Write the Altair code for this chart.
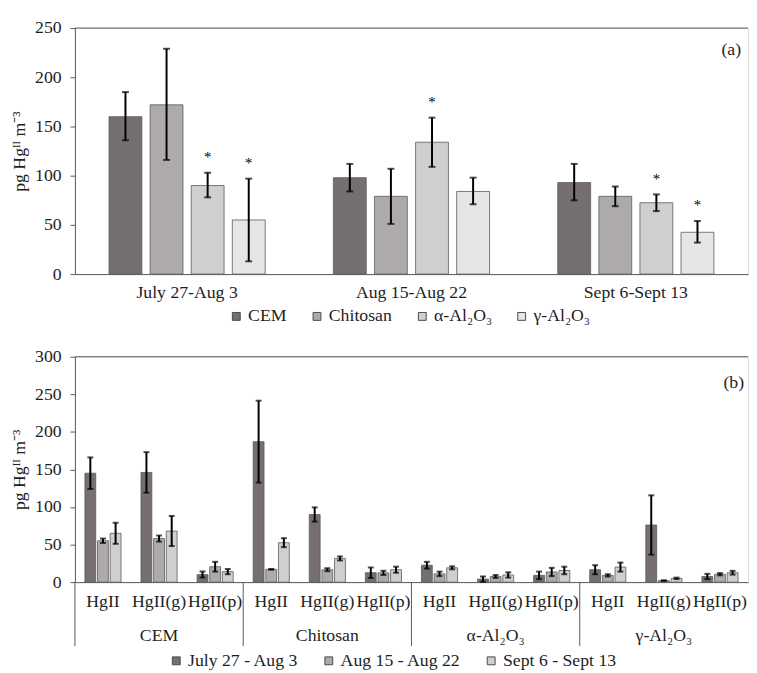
import altair as alt
import pandas as pd

FONT = "Liberation Serif"
AXC = "#595959"
TXT = "#1e1e1e"

# ---------- panel (a) ----------
periods_a = ["July 27-Aug 3", "Aug 15-Aug 22", "Sept 6-Sept 13"]
materials = ["CEM", "Chitosan", "α-Al₂O₃", "γ-Al₂O₃"]
colors_a = ["#756f6f", "#aeaaaa", "#d0cece", "#e7e6e6"]
mean_a = [[160, 172, 90, 55], [98, 79, 134, 84], [93, 79, 72.5, 42.5]]
low_a = [[136, 116, 78, 13], [84, 51, 109, 71], [75, 69, 64, 32]]
high_a = [[185, 229, 103, 97], [112, 107, 159, 98], [112, 89, 81, 54]]
star_a = [[0, 0, 1, 1], [0, 0, 1, 0], [0, 0, 1, 1]]
ticks_a = [0, 50, 100, 150, 200, 250]

# ---------- panel (b) ----------
groups_b = ["CEM", "Chitosan", "α-Al₂O₃", "γ-Al₂O₃"]
species = ["HgII", "HgII(g)", "HgII(p)"]
periods_b = ["July 27 - Aug 3", "Aug 15 - Aug 22", "Sept 6 - Sept 13"]
colors_b = ["#756f6f", "#aeaaaa", "#d0cece"]
mean_b = [
    [[145, 55, 65], [146, 58, 68], [10, 20.5, 14]],
    [[187, 17, 52.5], [90, 16.5, 31.5], [12.5, 12.3, 16.5]],
    [[22.5, 11, 19], [4, 7.5, 9.5], [9, 13.5, 15.5]],
    [[16.5, 9, 20], [76, 2, 5], [7.5, 10.5, 12.5]],
]
err_b = [
    [[21, 3, 14], [27, 4, 20], [4, 6.5, 3.5]],
    [[54.5, 0.5, 6], [9.5, 2, 2.7], [7, 2.8, 4]],
    [[4.5, 3, 2], [3.5, 2, 3.5], [5, 5.5, 5]],
    [[6, 1.5, 6], [39.5, 0.5, 1], [3.5, 1.5, 2.5]],
]
ticks_b = [0, 50, 100, 150, 200, 250, 300]

rows_a = []
for i, p in enumerate(periods_a):
    for j, m in enumerate(materials):
        rows_a.append(dict(period=p, material=m, mean=mean_a[i][j],
                           low=low_a[i][j], high=high_a[i][j], star=star_a[i][j]))
df_a = pd.DataFrame(rows_a)

rows_b = []
for g, grp in enumerate(groups_b):
    for s, sp in enumerate(species):
        for k, per in enumerate(periods_b):
            m = mean_b[g][s][k]
            e = err_b[g][s][k]
            rows_b.append(dict(key=f"{grp}|{sp}", group=grp, species=sp, period=per,
                               mean=m, low=max(m - e, 0), high=m + e))
df_b = pd.DataFrame(rows_b)
keys_b = [f"{g}|{s}" for g in groups_b for s in species]
one = pd.DataFrame(dict(n=[1]))

W = 684
HA = 250
HB = 229
ytitle = "pg Hgᴵᴵ m⁻³"


def yaxis(vals):
    return alt.Axis(title=ytitle, values=vals, tickCount=len(vals), grid=False,
                    labelOverlap=False, tickSize=5, labelPadding=9, titlePadding=6,
                    domainColor=AXC, tickColor=AXC, labelFontSize=18, titleFontSize=18,
                    titleFontWeight="normal", labelColor=TXT, titleColor=TXT)


# ---- chart (a) ----
xa = alt.X("period:N", sort=periods_a,
           scale=alt.Scale(domain=periods_a, paddingInner=0, paddingOuter=0),
           axis=alt.Axis(title=None, labelAngle=0, ticks=False, labelPadding=10,
                         domainColor=AXC, labelFontSize=18, labelColor=TXT))
xoa = alt.XOffset("material:N", sort=materials,
                  scale=alt.Scale(domain=materials, paddingInner=0.2, paddingOuter=0.83))
ya = alt.Y("mean:Q", scale=alt.Scale(domain=[0, 250], nice=False), axis=yaxis(ticks_a))

base_a = alt.Chart(df_a)
xpa = alt.X("period:N", sort=periods_a)
xom = alt.XOffset("material:N", sort=materials)
bars_a = base_a.mark_bar(stroke="#5a5a5a", strokeWidth=0.8).encode(
    x=xa, xOffset=xoa, y=ya,
    color=alt.Color("material:N", sort=materials,
                    scale=alt.Scale(domain=materials, range=colors_a),
                    legend=alt.Legend(title=None, orient="none", direction="horizontal",
                                      legendX=155, legendY=284, symbolType="square",
                                      symbolSize=64, symbolStrokeColor="#4a4a4a",
                                      symbolStrokeWidth=1, labelFontSize=18,
                                      labelOffset=3, columnPadding=21, padding=0,
                                      labelColor=TXT)))
err_a = base_a.mark_rule(color="black", strokeWidth=2).encode(
    x=xpa, xOffset=xom, y=alt.Y("low:Q", axis=yaxis(ticks_a)), y2="high:Q")
caplo_a = base_a.mark_tick(color="black", thickness=2, size=7).encode(
    x=xpa, xOffset=xom, y="low:Q")
caphi_a = base_a.mark_tick(color="black", thickness=2, size=7).encode(
    x=xpa, xOffset=xom, y="high:Q")
stars_a = base_a.transform_filter("datum.star == 1").mark_text(
    text="*", font=FONT, fontSize=15, color="black", baseline="middle", dy=-16).encode(
    x=xpa, xOffset=xom, y="high:Q")
top_a = alt.Chart(one).mark_rule(color=AXC, strokeWidth=1).encode(y=alt.datum(250))
lab_a = alt.Chart(one).mark_text(text="(a)", font=FONT, fontSize=18, color=TXT,
                                 align="right", baseline="middle", dx=-7).encode(
    x=alt.X(datum="Sept 6-Sept 13", bandPosition=1), y=alt.datum(228))

chart_a = alt.layer(bars_a, err_a, caplo_a, caphi_a, stars_a, top_a, lab_a).properties(
    width=W, height=HA)

# ---- chart (b) ----
xb = alt.X("key:N", sort=keys_b,
           scale=alt.Scale(domain=keys_b, paddingInner=0, paddingOuter=0),
           axis=alt.Axis(title=None, labelAngle=0, ticks=False, labelPadding=11,
                         labelExpr="split(datum.value, '|')[1]", labelOverlap=False,
                         labelBound=False, domainColor=AXC, labelFontSize=18,
                         labelColor=TXT))
xob = alt.XOffset("period:N", sort=periods_b,
                  scale=alt.Scale(domain=periods_b, paddingInner=0.14, paddingOuter=0.79))
yb = alt.Y("mean:Q", scale=alt.Scale(domain=[0, 300], nice=False), axis=yaxis(ticks_b))

base_b = alt.Chart(df_b)
bars_b = base_b.mark_bar(stroke="#5a5a5a", strokeWidth=0.8).encode(
    x=xb, xOffset=xob, y=yb,
    color=alt.Color("period:N", sort=periods_b,
                    scale=alt.Scale(domain=periods_b, range=colors_b),
                    legend=alt.Legend(title=None, orient="none", direction="horizontal",
                                      legendX=94, legendY=300, symbolType="square",
                                      symbolSize=64, symbolStrokeColor="#4a4a4a",
                                      symbolStrokeWidth=1, labelFontSize=18,
                                      labelOffset=3, columnPadding=22, padding=0,
                                      labelColor=TXT)))
xk = alt.X("key:N", sort=keys_b)
xo = alt.XOffset("period:N", sort=periods_b)
err_b_l = base_b.mark_rule(color="black", strokeWidth=2).encode(
    x=xk, xOffset=xo, y=alt.Y("low:Q", axis=yaxis(ticks_b)), y2="high:Q")
caplo_b = base_b.mark_tick(color="black", thickness=2, size=6).encode(
    x=xk, xOffset=xo, y="low:Q")
caphi_b = base_b.mark_tick(color="black", thickness=2, size=6).encode(
    x=xk, xOffset=xo, y="high:Q")
top_b = alt.Chart(one).mark_rule(color=AXC, strokeWidth=1).encode(y=alt.datum(300))

grp_df = pd.DataFrame(dict(group=groups_b, key=[f"{g}|HgII(g)" for g in groups_b]))
grp_lab = alt.Chart(grp_df).mark_text(font=FONT, fontSize=18, color=TXT,
                                      baseline="middle").encode(
    x=alt.X("key:N", sort=keys_b), y=alt.value(HB + 55), text="group:N")
sep_df = pd.DataFrame(dict(key=[f"{g}|HgII(p)" for g in groups_b[:3]]))
seps = alt.Chart(sep_df).mark_rule(color=AXC, strokeWidth=1).encode(
    x=alt.X("key:N", sort=keys_b, bandPosition=1), y=alt.value(HB), y2=alt.value(HB + 65))
left_df = pd.DataFrame(dict(key=[keys_b[0]]))
left_sep = alt.Chart(left_df).mark_rule(color=AXC, strokeWidth=1).encode(
    x=alt.X("key:N", sort=keys_b, bandPosition=0), y=alt.value(HB), y2=alt.value(HB + 65))
lab_b = alt.Chart(one).mark_text(text="(b)", font=FONT, fontSize=18, color=TXT,
                                 align="right", baseline="middle", dx=-4).encode(
    x=alt.X(datum="γ-Al₂O₃|HgII(p)", bandPosition=1), y=alt.datum(265))

chart_b = alt.layer(bars_b, err_b_l, caplo_b, caphi_b, top_b, grp_lab, seps, left_sep,
                    lab_b).properties(width=W, height=HB)

chart = alt.vconcat(chart_a, chart_b, spacing=21).resolve_scale(
    color="independent", x="independent", xOffset="independent", y="independent"
).properties(
    padding={"left": 2, "top": 5, "right": 0, "bottom": 0}
).configure_view(stroke=None).configure(font=FONT).configure_axis(
    labelFont=FONT, titleFont=FONT).configure_legend(labelFont=FONT)

chart.save("out.html", embed_options={"renderer": "svg", "actions": False})
